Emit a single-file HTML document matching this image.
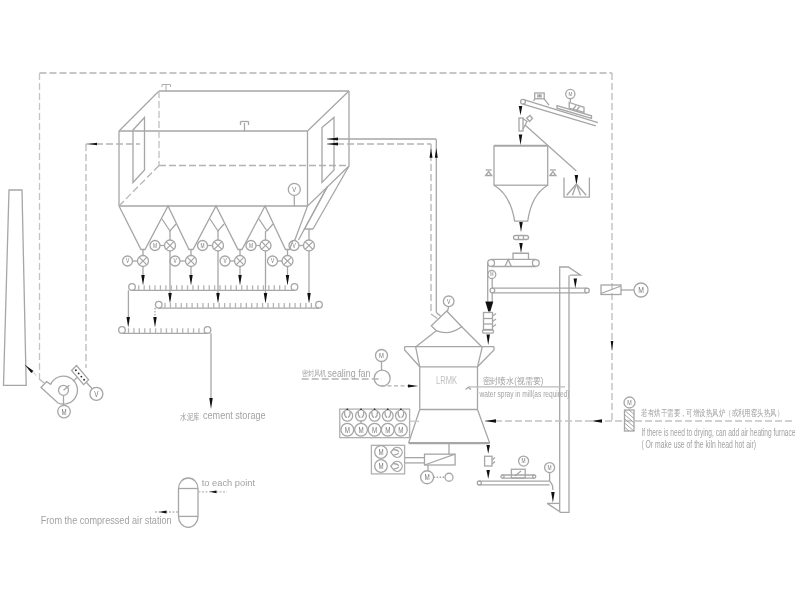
<!DOCTYPE html>
<html><head><meta charset="utf-8"><style>
html,body{margin:0;padding:0;background:#fff;width:800px;height:600px;overflow:hidden}
svg{display:block;will-change:transform}
text{font-family:"Liberation Sans",sans-serif}
</style></head><body>
<svg width="800" height="600" viewBox="0 0 800 600">
<g fill="none" stroke="#a6a6a6" stroke-width="1.3">
<line x1="39.5" y1="73" x2="612" y2="73" stroke="#b4b4b4" stroke-dasharray="7,3"/>
<line x1="39.5" y1="73" x2="39.5" y2="379.3" stroke="#c4c4c4" stroke-dasharray="7,3"/>
<line x1="612" y1="73" x2="612" y2="421" stroke="#bcbcbc" stroke-dasharray="7,3"/>
<line x1="159" y1="91" x2="349" y2="91"/>
<line x1="119" y1="131" x2="307.5" y2="131"/>
<line x1="119" y1="131" x2="159" y2="91"/>
<line x1="307.5" y1="131" x2="349" y2="91"/>
<line x1="119" y1="131" x2="119" y2="206"/>
<line x1="307.5" y1="131" x2="307.5" y2="206"/>
<line x1="119" y1="206" x2="307.5" y2="206"/>
<line x1="349" y1="91" x2="349" y2="166"/>
<line x1="159" y1="165.5" x2="349" y2="165.5" stroke="#b4b4b4" stroke-dasharray="7,3"/>
<line x1="159" y1="91" x2="159" y2="165.5" stroke="#c0c0c0" stroke-dasharray="7,3"/>
<line x1="119" y1="206" x2="159" y2="165.5" stroke="#b4b4b4" stroke-dasharray="7,3"/>
<polyline points="166,84.5 166,91" stroke-width="0.9"/>
<polyline points="162,84.5 170.5,84.5" stroke-width="0.9"/>
<polyline points="162,84.5 162,87" stroke-width="0.9"/>
<polyline points="170.5,84.5 170.5,87" stroke-width="0.9"/>
<polyline points="244.5,123 244.5,131"/>
<polyline points="240.5,121.5 248.5,121.5"/>
<polyline points="240.5,121.5 240.5,125"/>
<polyline points="248.5,121.5 248.5,125"/>
<polygon points="133,130 144.5,117.5 144.5,170 133,182.5"/>
<polygon points="322,127.5 334,117.5 334,170 322,182.5"/>
<line x1="86" y1="144" x2="140" y2="144" stroke="#b4b4b4" stroke-dasharray="7,3"/>
<line x1="86" y1="144" x2="86" y2="368" stroke="#b4b4b4" stroke-width="1.2" stroke-dasharray="7,3"/>
<polygon points="88,144 97,142.7 97,145.3" fill="#111" stroke="none"/>
<line x1="327" y1="139" x2="436" y2="139"/>
<line x1="436.3" y1="139" x2="436.3" y2="312.5"/>
<line x1="327" y1="144" x2="431" y2="144" stroke="#b4b4b4" stroke-dasharray="7,3"/>
<line x1="431" y1="144" x2="431" y2="314" stroke="#b4b4b4" stroke-width="1.3" stroke-dasharray="7,3"/>
<polygon points="327,139 338,137.4 338,140.6" fill="#111" stroke="none"/>
<polygon points="327,144 338,142.4 338,145.6" fill="#111" stroke="none"/>
<polygon points="431,148 429.5,157.7 432.5,157.7" fill="#111" stroke="none"/>
<polygon points="436.3,148 434.8,157.7 437.8,157.7" fill="#111" stroke="none"/>
<circle cx="294.3" cy="189.4" r="6"/>
<text x="0" y="0" transform="translate(294.3,192.208) scale(0.75,1)" font-size="7.800000000000001" stroke="none" fill="#7a7a7a" text-anchor="middle">V</text>
<line x1="294.3" y1="195.4" x2="294.3" y2="206"/>
<polyline points="119,206 141,249.5 145,249.5 168,206 189,249.5 193,249.5 216,206 238,249.5 242,249.5 265,206 285.5,249.5 289.5,249.5 293,240"/>
<polyline points="162,219 170,231 176,224"/>
<polyline points="210,219 218,231 224,224"/>
<polyline points="259,219 267,231 273,224"/>
<polyline points="349,166 307.5,206 294.5,241"/>
<line x1="349" y1="166" x2="313" y2="229"/>
<polyline points="327.5,186.5 304.5,229 313,229"/>
<line x1="327.5" y1="186.5" x2="298.5" y2="240"/>
<circle cx="155" cy="245.5" r="5"/>
<text x="0" y="0" transform="translate(155,247.84) scale(0.75,1)" font-size="6.5" stroke="none" fill="#7a7a7a" text-anchor="middle">M</text>
<line x1="160" y1="245.5" x2="164.5" y2="245.5"/>
<circle cx="170" cy="245.5" r="5.5"/>
<line x1="166.1115" y1="241.6115" x2="173.8885" y2="249.3885"/>
<line x1="166.1115" y1="249.3885" x2="173.8885" y2="241.6115"/>
<circle cx="202.5" cy="245.5" r="5"/>
<text x="0" y="0" transform="translate(202.5,247.84) scale(0.75,1)" font-size="6.5" stroke="none" fill="#7a7a7a" text-anchor="middle">M</text>
<line x1="207.5" y1="245.5" x2="212.5" y2="245.5"/>
<circle cx="218" cy="245.5" r="5.5"/>
<line x1="214.1115" y1="241.6115" x2="221.8885" y2="249.3885"/>
<line x1="214.1115" y1="249.3885" x2="221.8885" y2="241.6115"/>
<circle cx="251" cy="245.5" r="5"/>
<text x="0" y="0" transform="translate(251,247.84) scale(0.75,1)" font-size="6.5" stroke="none" fill="#7a7a7a" text-anchor="middle">M</text>
<line x1="256" y1="245.5" x2="260.0" y2="245.5"/>
<circle cx="265.5" cy="245.5" r="5.5"/>
<line x1="261.6115" y1="241.6115" x2="269.3885" y2="249.3885"/>
<line x1="261.6115" y1="249.3885" x2="269.3885" y2="241.6115"/>
<circle cx="294" cy="245.5" r="5"/>
<text x="0" y="0" transform="translate(294,247.84) scale(0.75,1)" font-size="6.5" stroke="none" fill="#7a7a7a" text-anchor="middle">V</text>
<line x1="299" y1="245.5" x2="303.5" y2="245.5"/>
<circle cx="309" cy="245.5" r="5.5"/>
<line x1="305.1115" y1="241.6115" x2="312.8885" y2="249.3885"/>
<line x1="305.1115" y1="249.3885" x2="312.8885" y2="241.6115"/>
<circle cx="127.5" cy="261" r="5"/>
<text x="0" y="0" transform="translate(127.5,263.34) scale(0.75,1)" font-size="6.5" stroke="none" fill="#7a7a7a" text-anchor="middle">V</text>
<line x1="132.5" y1="261" x2="137.5" y2="261"/>
<circle cx="143" cy="261" r="5.5"/>
<line x1="139.1115" y1="257.1115" x2="146.8885" y2="264.8885"/>
<line x1="139.1115" y1="264.8885" x2="146.8885" y2="257.1115"/>
<circle cx="175" cy="261" r="5"/>
<text x="0" y="0" transform="translate(175,263.34) scale(0.75,1)" font-size="6.5" stroke="none" fill="#7a7a7a" text-anchor="middle">V</text>
<line x1="180" y1="261" x2="185.5" y2="261"/>
<circle cx="191" cy="261" r="5.5"/>
<line x1="187.1115" y1="257.1115" x2="194.8885" y2="264.8885"/>
<line x1="187.1115" y1="264.8885" x2="194.8885" y2="257.1115"/>
<circle cx="225" cy="261" r="5"/>
<text x="0" y="0" transform="translate(225,263.34) scale(0.75,1)" font-size="6.5" stroke="none" fill="#7a7a7a" text-anchor="middle">V</text>
<line x1="230" y1="261" x2="234.5" y2="261"/>
<circle cx="240" cy="261" r="5.5"/>
<line x1="236.1115" y1="257.1115" x2="243.8885" y2="264.8885"/>
<line x1="236.1115" y1="264.8885" x2="243.8885" y2="257.1115"/>
<circle cx="272.5" cy="261" r="5"/>
<text x="0" y="0" transform="translate(272.5,263.34) scale(0.75,1)" font-size="6.5" stroke="none" fill="#7a7a7a" text-anchor="middle">V</text>
<line x1="277.5" y1="261" x2="282.0" y2="261"/>
<circle cx="287.5" cy="261" r="5.5"/>
<line x1="283.6115" y1="257.1115" x2="291.3885" y2="264.8885"/>
<line x1="283.6115" y1="264.8885" x2="291.3885" y2="257.1115"/>
<line x1="170" y1="231" x2="170" y2="240"/>
<line x1="218" y1="231" x2="218" y2="240"/>
<line x1="265.5" y1="231" x2="265.5" y2="240"/>
<line x1="309" y1="229" x2="309" y2="240"/>
<line x1="143" y1="249" x2="143" y2="255.5"/>
<line x1="191" y1="249" x2="191" y2="255.5"/>
<line x1="240" y1="249" x2="240" y2="255.5"/>
<line x1="287.5" y1="249" x2="287.5" y2="255.5"/>
<line x1="170" y1="251" x2="170" y2="300"/>
<polygon points="168.25,293 171.75,293 170,303.5" fill="#111" stroke="none"/>
<line x1="218" y1="251" x2="218" y2="300"/>
<polygon points="216.25,293 219.75,293 218,303.5" fill="#111" stroke="none"/>
<line x1="265.5" y1="251" x2="265.5" y2="300"/>
<polygon points="263.75,293 267.25,293 265.5,303.5" fill="#111" stroke="none"/>
<line x1="309" y1="251" x2="309" y2="300"/>
<polygon points="307.25,293 310.75,293 309,303.5" fill="#111" stroke="none"/>
<line x1="143" y1="266.5" x2="143" y2="280"/>
<polygon points="141.25,275 144.75,275 143,285.5" fill="#111" stroke="none"/>
<line x1="191" y1="266.5" x2="191" y2="280"/>
<polygon points="189.25,275 192.75,275 191,285.5" fill="#111" stroke="none"/>
<line x1="240" y1="266.5" x2="240" y2="280"/>
<polygon points="238.25,275 241.75,275 240,285.5" fill="#111" stroke="none"/>
<line x1="287.5" y1="266.5" x2="287.5" y2="280"/>
<polygon points="285.75,275 289.25,275 287.5,285.5" fill="#111" stroke="none"/>
<circle cx="132" cy="287" r="3.3"/>
<circle cx="294.5" cy="287" r="3.3"/>
<line x1="132" y1="290.3" x2="294.5" y2="290.3"/>
<line x1="138.75" y1="285.3" x2="138.75" y2="290.3" stroke="#b4b4b4"/>
<line x1="144.17" y1="285.3" x2="144.17" y2="290.3" stroke="#b4b4b4"/>
<line x1="149.59" y1="285.3" x2="149.59" y2="290.3" stroke="#b4b4b4"/>
<line x1="155.01" y1="285.3" x2="155.01" y2="290.3" stroke="#b4b4b4"/>
<line x1="160.43" y1="285.3" x2="160.43" y2="290.3" stroke="#b4b4b4"/>
<line x1="165.85" y1="285.3" x2="165.85" y2="290.3" stroke="#b4b4b4"/>
<line x1="171.27" y1="285.3" x2="171.27" y2="290.3" stroke="#b4b4b4"/>
<line x1="176.69" y1="285.3" x2="176.69" y2="290.3" stroke="#b4b4b4"/>
<line x1="182.11" y1="285.3" x2="182.11" y2="290.3" stroke="#b4b4b4"/>
<line x1="187.53" y1="285.3" x2="187.53" y2="290.3" stroke="#b4b4b4"/>
<line x1="192.95" y1="285.3" x2="192.95" y2="290.3" stroke="#b4b4b4"/>
<line x1="198.37" y1="285.3" x2="198.37" y2="290.3" stroke="#b4b4b4"/>
<line x1="203.79" y1="285.3" x2="203.79" y2="290.3" stroke="#b4b4b4"/>
<line x1="209.21" y1="285.3" x2="209.21" y2="290.3" stroke="#b4b4b4"/>
<line x1="214.63" y1="285.3" x2="214.63" y2="290.3" stroke="#b4b4b4"/>
<line x1="220.05" y1="285.3" x2="220.05" y2="290.3" stroke="#b4b4b4"/>
<line x1="225.47" y1="285.3" x2="225.47" y2="290.3" stroke="#b4b4b4"/>
<line x1="230.89" y1="285.3" x2="230.89" y2="290.3" stroke="#b4b4b4"/>
<line x1="236.31" y1="285.3" x2="236.31" y2="290.3" stroke="#b4b4b4"/>
<line x1="241.73" y1="285.3" x2="241.73" y2="290.3" stroke="#b4b4b4"/>
<line x1="247.15" y1="285.3" x2="247.15" y2="290.3" stroke="#b4b4b4"/>
<line x1="252.57" y1="285.3" x2="252.57" y2="290.3" stroke="#b4b4b4"/>
<line x1="257.99" y1="285.3" x2="257.99" y2="290.3" stroke="#b4b4b4"/>
<line x1="263.41" y1="285.3" x2="263.41" y2="290.3" stroke="#b4b4b4"/>
<line x1="268.83" y1="285.3" x2="268.83" y2="290.3" stroke="#b4b4b4"/>
<line x1="274.25" y1="285.3" x2="274.25" y2="290.3" stroke="#b4b4b4"/>
<line x1="279.67" y1="285.3" x2="279.67" y2="290.3" stroke="#b4b4b4"/>
<line x1="285.09" y1="285.3" x2="285.09" y2="290.3" stroke="#b4b4b4"/>
<circle cx="158.75" cy="304.75" r="3.3"/>
<circle cx="319" cy="304.75" r="3.3"/>
<line x1="158.75" y1="308.05" x2="319" y2="308.05"/>
<line x1="165" y1="303.05" x2="165" y2="308.05" stroke="#b4b4b4"/>
<line x1="170.42" y1="303.05" x2="170.42" y2="308.05" stroke="#b4b4b4"/>
<line x1="175.84" y1="303.05" x2="175.84" y2="308.05" stroke="#b4b4b4"/>
<line x1="181.26" y1="303.05" x2="181.26" y2="308.05" stroke="#b4b4b4"/>
<line x1="186.68" y1="303.05" x2="186.68" y2="308.05" stroke="#b4b4b4"/>
<line x1="192.1" y1="303.05" x2="192.1" y2="308.05" stroke="#b4b4b4"/>
<line x1="197.52" y1="303.05" x2="197.52" y2="308.05" stroke="#b4b4b4"/>
<line x1="202.94" y1="303.05" x2="202.94" y2="308.05" stroke="#b4b4b4"/>
<line x1="208.36" y1="303.05" x2="208.36" y2="308.05" stroke="#b4b4b4"/>
<line x1="213.78" y1="303.05" x2="213.78" y2="308.05" stroke="#b4b4b4"/>
<line x1="219.2" y1="303.05" x2="219.2" y2="308.05" stroke="#b4b4b4"/>
<line x1="224.62" y1="303.05" x2="224.62" y2="308.05" stroke="#b4b4b4"/>
<line x1="230.04" y1="303.05" x2="230.04" y2="308.05" stroke="#b4b4b4"/>
<line x1="235.46" y1="303.05" x2="235.46" y2="308.05" stroke="#b4b4b4"/>
<line x1="240.88" y1="303.05" x2="240.88" y2="308.05" stroke="#b4b4b4"/>
<line x1="246.3" y1="303.05" x2="246.3" y2="308.05" stroke="#b4b4b4"/>
<line x1="251.72" y1="303.05" x2="251.72" y2="308.05" stroke="#b4b4b4"/>
<line x1="257.14" y1="303.05" x2="257.14" y2="308.05" stroke="#b4b4b4"/>
<line x1="262.56" y1="303.05" x2="262.56" y2="308.05" stroke="#b4b4b4"/>
<line x1="267.98" y1="303.05" x2="267.98" y2="308.05" stroke="#b4b4b4"/>
<line x1="273.4" y1="303.05" x2="273.4" y2="308.05" stroke="#b4b4b4"/>
<line x1="278.82" y1="303.05" x2="278.82" y2="308.05" stroke="#b4b4b4"/>
<line x1="284.24" y1="303.05" x2="284.24" y2="308.05" stroke="#b4b4b4"/>
<line x1="289.66" y1="303.05" x2="289.66" y2="308.05" stroke="#b4b4b4"/>
<line x1="295.08" y1="303.05" x2="295.08" y2="308.05" stroke="#b4b4b4"/>
<line x1="300.5" y1="303.05" x2="300.5" y2="308.05" stroke="#b4b4b4"/>
<line x1="305.92" y1="303.05" x2="305.92" y2="308.05" stroke="#b4b4b4"/>
<line x1="311.34" y1="303.05" x2="311.34" y2="308.05" stroke="#b4b4b4"/>
<circle cx="122" cy="330" r="3.3"/>
<circle cx="207.5" cy="330" r="3.3"/>
<line x1="122" y1="333.3" x2="207.5" y2="333.3"/>
<line x1="128.5" y1="328.3" x2="128.5" y2="333.3" stroke="#b4b4b4"/>
<line x1="133.92" y1="328.3" x2="133.92" y2="333.3" stroke="#b4b4b4"/>
<line x1="139.34" y1="328.3" x2="139.34" y2="333.3" stroke="#b4b4b4"/>
<line x1="144.76" y1="328.3" x2="144.76" y2="333.3" stroke="#b4b4b4"/>
<line x1="150.18" y1="328.3" x2="150.18" y2="333.3" stroke="#b4b4b4"/>
<line x1="155.6" y1="328.3" x2="155.6" y2="333.3" stroke="#b4b4b4"/>
<line x1="161.02" y1="328.3" x2="161.02" y2="333.3" stroke="#b4b4b4"/>
<line x1="166.44" y1="328.3" x2="166.44" y2="333.3" stroke="#b4b4b4"/>
<line x1="171.86" y1="328.3" x2="171.86" y2="333.3" stroke="#b4b4b4"/>
<line x1="177.28" y1="328.3" x2="177.28" y2="333.3" stroke="#b4b4b4"/>
<line x1="182.7" y1="328.3" x2="182.7" y2="333.3" stroke="#b4b4b4"/>
<line x1="188.12" y1="328.3" x2="188.12" y2="333.3" stroke="#b4b4b4"/>
<line x1="193.54" y1="328.3" x2="193.54" y2="333.3" stroke="#b4b4b4"/>
<line x1="198.96" y1="328.3" x2="198.96" y2="333.3" stroke="#b4b4b4"/>
<line x1="128.4" y1="290.3" x2="128.4" y2="320"/>
<polygon points="126.44999999999999,317 129.95,317 128.2,327.5" fill="#111" stroke="none"/>
<line x1="155" y1="308" x2="155" y2="320" stroke-dasharray="1.5,1.5"/>
<polygon points="153.25,317 156.75,317 155,327.5" fill="#111" stroke="none"/>
<line x1="211" y1="333.3" x2="211" y2="400"/>
<polygon points="209.25,398 212.75,398 211,409" fill="#111" stroke="none"/>
<text x="180.3" y="419.5" font-size="9" stroke="none" fill="#9a9a9a" text-anchor="start" textLength="19.3" lengthAdjust="spacingAndGlyphs">水泥库</text>
<text x="203" y="419.25" font-size="10.6" stroke="none" fill="#a2a2a2" text-anchor="start" textLength="62.6" lengthAdjust="spacingAndGlyphs">cement storage</text>
<polygon points="9,190 3.5,385.4 26.2,385.4 22,190"/>
<path d="M 41,387.5 L 46.6,381.6 L 50.7,384.3 A 14 14 0 1 1 58,403 Z"/>
<circle cx="63.5" cy="390.3" r="5"/>
<line x1="63.5" y1="390.3" x2="69.5" y2="385.2"/>
<line x1="63.5" y1="395.3" x2="63.5" y2="405"/>
<circle cx="64" cy="411.6" r="6.3"/>
<text x="0" y="0" transform="translate(64,414.5484) scale(0.75,1)" font-size="8.19" stroke="none" fill="#7a7a7a" text-anchor="middle">M</text>
<polygon points="71.6,370.5 76.5,365.5 88.6,379.7 83.6,384.6"/>
<circle cx="75.91" cy="370.23" r="0.9" stroke="none" fill="#222"/>
<circle cx="78.64" cy="373.41" r="0.9" stroke="none" fill="#222"/>
<circle cx="81.36" cy="376.59" r="0.9" stroke="none" fill="#222"/>
<circle cx="84.09" cy="379.77" r="0.9" stroke="none" fill="#222"/>
<line x1="74" y1="380.6" x2="77" y2="377.5"/>
<line x1="86" y1="382" x2="92" y2="388.5"/>
<circle cx="96.4" cy="393.9" r="6.5"/>
<text x="0" y="0" transform="translate(96.4,396.94199999999995) scale(0.75,1)" font-size="8.450000000000001" stroke="none" fill="#7a7a7a" text-anchor="middle">V</text>
<polygon points="24.6,364.6 33.5,370.9 31.3,373.1" fill="#111" stroke="none"/>
<line x1="32.4" y1="372" x2="36.5" y2="375.6" stroke="#bbb" stroke-dasharray="1,1"/>
<polyline points="39.3,379.3 44.3,383" stroke="#b4b4b4"/>
<path d="M 178.5,488.5 A 9.75 10.5 0 0 1 198,488.5 L 198,516.4 A 9.75 11 0 0 1 178.5,516.4 Z"/>
<line x1="178.5" y1="488.5" x2="198" y2="488.5"/>
<line x1="178.5" y1="516.4" x2="198" y2="516.4"/>
<text x="201.75" y="485.8" font-size="9.5" stroke="none" fill="#a2a2a2" text-anchor="start" textLength="53.25" lengthAdjust="spacingAndGlyphs">to each point</text>
<line x1="198.5" y1="491.8" x2="227" y2="491.8" stroke="#bbb" stroke-dasharray="2,1.5"/>
<polygon points="209.5,491.8 216.5,490.40000000000003 216.5,493.2" fill="#111" stroke="none"/>
<text x="40.75" y="523.8" font-size="10.5" stroke="none" fill="#a2a2a2" text-anchor="start" textLength="130.85" lengthAdjust="spacingAndGlyphs">From the compressed air station</text>
<line x1="155" y1="512" x2="179.5" y2="512" stroke="#bbb" stroke-dasharray="2,1.5"/>
<polygon points="159,512 166.5,510.6 166.5,513.4" fill="#111" stroke="none"/>
<rect x="494" y="146" width="53.7" height="39.2"/>
<line x1="494" y1="145.5" x2="547.7" y2="145.5" stroke-width="1.6"/>
<path d="M 494,185.2 C 506,192 512,205 514.7,221.2 L 527.7,221.2 C 530,205 536,192 547.7,185.2"/>
<polygon points="485.7,175.5 488.7,171.5 491.7,175.5"/>
<line x1="485.7" y1="170" x2="491.7" y2="170"/>
<polygon points="549.9,175.5 552.9,171.5 555.9,175.5"/>
<line x1="549.9" y1="170" x2="555.9" y2="170"/>
<line x1="524.6" y1="99.9" x2="597.9" y2="122.7"/>
<line x1="523" y1="104.1" x2="595.8" y2="125.9"/>
<circle cx="523" cy="101.8" r="2.4"/>
<rect x="534.7" y="93" width="9.5" height="5.8"/>
<line x1="537" y1="95.2" x2="542" y2="95.2"/>
<line x1="537" y1="96.8" x2="542" y2="96.8"/>
<line x1="539.5" y1="94" x2="539.5" y2="97"/>
<line x1="534.7" y1="98.8" x2="533.6" y2="101"/>
<line x1="544.2" y1="98.8" x2="549" y2="105.2"/>
<polygon points="557,105.7 591.5,115.8 591.5,118.3 557,108.2"/>
<polygon points="569.2,102.5 584,107.3 584,112.3 569.2,108"/>
<line x1="573" y1="109.5" x2="576" y2="105.5"/>
<line x1="576.5" y1="110.5" x2="579.5" y2="106.5"/>
<circle cx="570.3" cy="94" r="4.6"/>
<text x="0" y="0" transform="translate(570.3,96.1528) scale(0.75,1)" font-size="5.9799999999999995" stroke="none" fill="#7a7a7a" text-anchor="middle">M</text>
<line x1="570.3" y1="98.6" x2="570.3" y2="102.5"/>
<polygon points="518.75,106 522.25,106 520.5,115.5" fill="#111" stroke="none"/>
<rect x="519" y="118" width="4" height="13"/>
<polygon points="518.75,134.5 522.25,134.5 520.5,145" fill="#111" stroke="none"/>
<polyline points="523,118.5 527,121.5 523,129"/>
<polygon points="526.7,118 530,115.5 532.5,118.5 529.5,121.5"/>
<line x1="525" y1="125" x2="576.4" y2="171"/>
<polygon points="574.65,175 578.15,175 576.4,185" fill="#111" stroke="none"/>
<polyline points="564,177.4 564,197.2 589.4,197.2 589.4,177.4"/>
<line x1="576.4" y1="184" x2="566.7" y2="195.2"/>
<line x1="576.4" y1="184" x2="572.4" y2="195.2"/>
<line x1="576.4" y1="184" x2="580.5" y2="195.2"/>
<line x1="576.4" y1="184" x2="586.2" y2="195.2"/>
<polygon points="519.25,222 522.75,222 521,232" fill="#111" stroke="none"/>
<path d="M 515.5,235.5 L 526.5,235.5 A 2 2 0 0 1 526.5,239.5 L 515.5,239.5 A 2 2 0 0 1 515.5,235.5 Z"/>
<line x1="518.5" y1="235.5" x2="518.5" y2="239.5"/>
<line x1="523.5" y1="235.5" x2="523.5" y2="239.5"/>
<polygon points="519.25,243 522.75,243 521,253" fill="#111" stroke="none"/>
<polyline points="513,259.4 513,253.25 528.5,253.25 528.5,259.4"/>
<circle cx="491.1" cy="263" r="3.4"/>
<circle cx="535.8" cy="263" r="3.4"/>
<line x1="491.1" y1="259.4" x2="535.8" y2="259.4"/>
<line x1="491.1" y1="266.5" x2="535.8" y2="266.5"/>
<polyline points="505,266.5 508.2,259.6 511.4,266.5"/>
<line x1="487.7" y1="263" x2="487.7" y2="301.5"/>
<circle cx="491.8" cy="274.5" r="4"/>
<text x="0" y="0" transform="translate(491.8,276.372) scale(0.75,1)" font-size="5.2" stroke="none" fill="#7a7a7a" text-anchor="middle">M</text>
<line x1="492.2" y1="278.5" x2="492.2" y2="288.2"/>
<line x1="492.2" y1="292.8" x2="492.2" y2="301.5"/>
<circle cx="492.4" cy="290.5" r="2.3"/>
<circle cx="587" cy="290.5" r="2.3"/>
<line x1="492.4" y1="288.2" x2="587" y2="288.2"/>
<line x1="492.4" y1="292.8" x2="587" y2="292.8"/>
<polygon points="485.3,301.5 493.3,301.5 490.3,311.5 488.3,311.5" fill="#111" stroke="none"/>
<rect x="483.5" y="312.5" width="9" height="17"/>
<line x1="492.5" y1="316" x2="496" y2="313.5"/>
<line x1="492.5" y1="321.5" x2="496" y2="319"/>
<line x1="492.5" y1="327" x2="496" y2="324.5"/>
<line x1="483.5" y1="318.5" x2="492.5" y2="318.5"/>
<line x1="483.5" y1="324" x2="492.5" y2="324"/>
<path d="M 484,330 L 492,330 A 1.6 1.6 0 0 1 492,333.2 L 484,333.2 A 1.6 1.6 0 0 1 484,330 Z"/>
<polygon points="486.45,334.4 489.95,334.4 488.2,345" fill="#111" stroke="none"/>
<polyline points="559.7,512.3 559.7,267 568.3,267 580.5,275.2 570,275.2"/>
<polyline points="569,275.2 569,512.3 559.7,512.3"/>
<polygon points="573.55,278.4 577.05,278.4 575.3,288.2" fill="#111" stroke="none"/>
<polyline points="547.2,503.4 559.4,503.4"/>
<line x1="547.2" y1="503.4" x2="559.4" y2="511.5"/>
<path d="M 446.7,311 L 431.3,325.7 L 436.3,330.7 Q 449,336 461.7,326.7 Z"/>
<line x1="436.3" y1="330.7" x2="415.6" y2="347"/>
<line x1="461.7" y1="326.7" x2="482" y2="347"/>
<circle cx="448.7" cy="301.3" r="5.3"/>
<text x="0" y="0" transform="translate(448.7,303.7804) scale(0.75,1)" font-size="6.89" stroke="none" fill="#7a7a7a" text-anchor="middle">V</text>
<line x1="448.7" y1="306.6" x2="447.5" y2="311"/>
<polyline points="431,314 437.3,318.5" stroke="#b4b4b4"/>
<polyline points="436.3,312.5 440.5,316"/>
<line x1="404.6" y1="346.6" x2="494" y2="346.6" stroke-width="1.3"/>
<polyline points="404.6,346.6 404.6,350 419.75,366.8"/>
<polyline points="494,346.6 494,350 477.5,366.8"/>
<line x1="415.6" y1="346.6" x2="419.75" y2="366.8"/>
<line x1="482.3" y1="346.6" x2="477.5" y2="366.8"/>
<line x1="419.75" y1="366.8" x2="477.5" y2="366.8"/>
<line x1="419.75" y1="366.8" x2="419.75" y2="409.5"/>
<line x1="477.5" y1="366.8" x2="477.5" y2="409.5"/>
<line x1="419.75" y1="409.5" x2="477.5" y2="409.5"/>
<polyline points="419.75,409.5 408.75,442.6 489.5,442.6 477.5,409.5"/>
<line x1="408.75" y1="443.5" x2="489.5" y2="443.5"/>
<text x="436" y="384.3" font-size="10" stroke="none" fill="#c0c0c0" text-anchor="start" textLength="21" lengthAdjust="spacingAndGlyphs">LRMK</text>
<circle cx="381.5" cy="355.5" r="6"/>
<text x="0" y="0" transform="translate(381.5,358.308) scale(0.75,1)" font-size="7.800000000000001" stroke="none" fill="#7a7a7a" text-anchor="middle">M</text>
<line x1="381.5" y1="361.5" x2="381.5" y2="370"/>
<circle cx="382.2" cy="378.2" r="8"/>
<text x="301.7" y="376.3" font-size="8.2" stroke="none" fill="#a4a4a4" text-anchor="start" textLength="25" lengthAdjust="spacingAndGlyphs">密封风机</text>
<text x="327.5" y="376.8" font-size="10.5" stroke="none" fill="#a2a2a2" text-anchor="start" textLength="43" lengthAdjust="spacingAndGlyphs">sealing fan</text>
<line x1="301.7" y1="379" x2="382" y2="379" stroke="#b4b4b4" stroke-dasharray="7,3"/>
<line x1="381" y1="385.8" x2="410" y2="385.8" stroke="#b0b0b0" stroke-dasharray="4,2.5"/>
<polygon points="418.4,386 408,384.5 408,387.5" fill="#111" stroke="none"/>
<line x1="468.6" y1="386.8" x2="565" y2="386.8" stroke="#bbb"/>
<polyline points="465.5,389.5 468.3,387.3 471,389.5"/>
<text x="482.5" y="384.25" font-size="8.5" stroke="none" fill="#a0a0a0" text-anchor="start" textLength="60.75" lengthAdjust="spacingAndGlyphs">密封喷水(视需要)</text>
<text x="479.5" y="397" font-size="9" stroke="none" fill="#a2a2a2" text-anchor="start" textLength="90" lengthAdjust="spacingAndGlyphs">water spray in mill(as required)</text>
<line x1="485" y1="421" x2="792.5" y2="421" stroke="#c2c2c2" stroke-dasharray="7,3"/>
<polygon points="485,421 496,419.3 496,422.7" fill="#111" stroke="none"/>
<polygon points="591.5,421 602,419.3 602,422.7" fill="#111" stroke="none"/>
<polygon points="610.7,341 613.3,341 612,351" fill="#111" stroke="none"/>
<rect x="601" y="285" width="20" height="9.5"/>
<line x1="601" y1="293.5" x2="621" y2="286"/>
<line x1="621" y1="290" x2="634" y2="290"/>
<circle cx="641" cy="290" r="7"/>
<text x="0" y="0" transform="translate(641,293.276) scale(0.75,1)" font-size="9.1" stroke="none" fill="#7a7a7a" text-anchor="middle">M</text>
<circle cx="629.5" cy="402.5" r="5.5"/>
<text x="0" y="0" transform="translate(629.5,405.074) scale(0.75,1)" font-size="7.15" stroke="none" fill="#7a7a7a" text-anchor="middle">M</text>
<rect x="624.5" y="410" width="9.5" height="21"/>
<clipPath id="hc"><rect x="624.5" y="410" width="9.5" height="21"/></clipPath>
<g clip-path="url(#hc)">
<line x1="622" y1="404.0" x2="636" y2="416.0" stroke="#9a9a9a" stroke-width="0.9"/>
<line x1="622" y1="408.2" x2="636" y2="420.2" stroke="#9a9a9a" stroke-width="0.9"/>
<line x1="622" y1="412.4" x2="636" y2="424.4" stroke="#9a9a9a" stroke-width="0.9"/>
<line x1="622" y1="416.6" x2="636" y2="428.6" stroke="#9a9a9a" stroke-width="0.9"/>
<line x1="622" y1="420.8" x2="636" y2="432.8" stroke="#9a9a9a" stroke-width="0.9"/>
<line x1="622" y1="425.0" x2="636" y2="437.0" stroke="#9a9a9a" stroke-width="0.9"/>
<line x1="622" y1="429.2" x2="636" y2="441.2" stroke="#9a9a9a" stroke-width="0.9"/>
</g>
<text x="641.4" y="416.4" font-size="9" stroke="none" fill="#a0a0a0" text-anchor="start" textLength="141.6" lengthAdjust="spacingAndGlyphs">若有烘干需要，可增设热风炉（或利用窑头热风）</text>
<text x="641.4" y="435.5" font-size="11" stroke="none" fill="#a2a2a2" text-anchor="start" textLength="154.1" lengthAdjust="spacingAndGlyphs">If there is need to drying, can add air heating furnace</text>
<text x="641.4" y="447.9" font-size="10.5" stroke="none" fill="#a2a2a2" text-anchor="start" textLength="114.6" lengthAdjust="spacingAndGlyphs">( Or make use of the kiln head hot air)</text>
<rect x="339.75" y="409.1" width="69.85" height="28.55" stroke="#b0b0b0"/>
<g transform="rotate(0 347.3 415.2)">
<path d="M 347.3,409.0 L 343.25,412.22999999999996 A 5.4 5.4 0 1 0 351.35,412.22999999999996 Z"/>
<path d="M 344.6,411.96 Q 344.33,416.28 346.76,417.63"/>
<path d="M 350.0,411.96 Q 350.27000000000004,416.28 347.84000000000003,417.63"/>
</g>
<circle cx="347.3" cy="409.3" r="0.9" stroke="none" fill="#333"/>
<circle cx="347.3" cy="429.8" r="6.4"/>
<text x="0" y="0" transform="translate(347.3,432.7952) scale(0.75,1)" font-size="8.32" stroke="none" fill="#7a7a7a" text-anchor="middle">M</text>
<g transform="rotate(0 361.0 415.2)">
<path d="M 361.0,409.0 L 356.95,412.22999999999996 A 5.4 5.4 0 1 0 365.05,412.22999999999996 Z"/>
<path d="M 358.3,411.96 Q 358.03,416.28 360.46,417.63"/>
<path d="M 363.7,411.96 Q 363.97,416.28 361.54,417.63"/>
</g>
<circle cx="361.0" cy="409.3" r="0.9" stroke="none" fill="#333"/>
<circle cx="361.0" cy="429.8" r="6.4"/>
<text x="0" y="0" transform="translate(361.0,432.7952) scale(0.75,1)" font-size="8.32" stroke="none" fill="#7a7a7a" text-anchor="middle">M</text>
<g transform="rotate(0 374.6 415.2)">
<path d="M 374.6,409.0 L 370.55,412.22999999999996 A 5.4 5.4 0 1 0 378.65000000000003,412.22999999999996 Z"/>
<path d="M 371.90000000000003,411.96 Q 371.63,416.28 374.06,417.63"/>
<path d="M 377.3,411.96 Q 377.57000000000005,416.28 375.14000000000004,417.63"/>
</g>
<circle cx="374.6" cy="409.3" r="0.9" stroke="none" fill="#333"/>
<circle cx="374.6" cy="429.8" r="6.4"/>
<text x="0" y="0" transform="translate(374.6,432.7952) scale(0.75,1)" font-size="8.32" stroke="none" fill="#7a7a7a" text-anchor="middle">M</text>
<g transform="rotate(0 387.75 415.2)">
<path d="M 387.75,409.0 L 383.7,412.22999999999996 A 5.4 5.4 0 1 0 391.8,412.22999999999996 Z"/>
<path d="M 385.05,411.96 Q 384.78,416.28 387.21,417.63"/>
<path d="M 390.45,411.96 Q 390.72,416.28 388.29,417.63"/>
</g>
<circle cx="387.75" cy="409.3" r="0.9" stroke="none" fill="#333"/>
<circle cx="387.75" cy="429.8" r="6.4"/>
<text x="0" y="0" transform="translate(387.75,432.7952) scale(0.75,1)" font-size="8.32" stroke="none" fill="#7a7a7a" text-anchor="middle">M</text>
<g transform="rotate(0 400.9 415.2)">
<path d="M 400.9,409.0 L 396.84999999999997,412.22999999999996 A 5.4 5.4 0 1 0 404.95,412.22999999999996 Z"/>
<path d="M 398.2,411.96 Q 397.92999999999995,416.28 400.35999999999996,417.63"/>
<path d="M 403.59999999999997,411.96 Q 403.87,416.28 401.44,417.63"/>
</g>
<circle cx="400.9" cy="409.3" r="0.9" stroke="none" fill="#333"/>
<circle cx="400.9" cy="429.8" r="6.4"/>
<text x="0" y="0" transform="translate(400.9,432.7952) scale(0.75,1)" font-size="8.32" stroke="none" fill="#7a7a7a" text-anchor="middle">M</text>
<line x1="361" y1="419.9" x2="361" y2="423.4"/>
<line x1="409.6" y1="421.25" x2="419.25" y2="421.25" stroke="#c8c8c8"/>
<rect x="371.4" y="445.3" width="33.2" height="28.6" stroke="#b0b0b0"/>
<circle cx="381" cy="452" r="6.3"/>
<text x="0" y="0" transform="translate(381,454.9484) scale(0.75,1)" font-size="8.19" stroke="none" fill="#7a7a7a" text-anchor="middle">M</text>
<circle cx="381" cy="466" r="6.3"/>
<text x="0" y="0" transform="translate(381,468.9484) scale(0.75,1)" font-size="8.19" stroke="none" fill="#7a7a7a" text-anchor="middle">M</text>
<g transform="rotate(-90 396.6 452.3)">
<path d="M 396.6,446.5 L 392.85,449.55 A 5.0 5.0 0 1 0 400.35,449.55 Z"/>
<path d="M 394.1,449.3 Q 393.85,453.3 396.1,454.55"/>
<path d="M 399.1,449.3 Q 399.35,453.3 397.1,454.55"/>
</g>
<g transform="rotate(-90 396.6 466.3)">
<path d="M 396.6,460.5 L 392.85,463.55 A 5.0 5.0 0 1 0 400.35,463.55 Z"/>
<path d="M 394.1,463.3 Q 393.85,467.3 396.1,468.55"/>
<path d="M 399.1,463.3 Q 399.35,467.3 397.1,468.55"/>
</g>
<line x1="404.9" y1="457.65" x2="424.5" y2="457.65"/>
<line x1="404.9" y1="462.9" x2="424.5" y2="462.9"/>
<rect x="424.5" y="454.15" width="30.6" height="10.85"/>
<line x1="424.5" y1="465" x2="455" y2="454.15"/>
<line x1="449" y1="442.6" x2="449" y2="454.15"/>
<line x1="428" y1="465" x2="428" y2="471"/>
<circle cx="427.1" cy="477.25" r="6.5"/>
<text x="0" y="0" transform="translate(427.1,480.292) scale(0.75,1)" font-size="8.450000000000001" stroke="none" fill="#7a7a7a" text-anchor="middle">M</text>
<line x1="433.6" y1="477.25" x2="445" y2="477.25" stroke-dasharray="1.5,1.5"/>
<circle cx="449" cy="477.25" r="4"/>
<polygon points="486.45,444.9 489.95,444.9 488.2,453.8" fill="#111" stroke="none"/>
<rect x="484.6" y="456.25" width="7.4" height="9.75"/>
<line x1="492" y1="460" x2="495" y2="457.5"/>
<line x1="492" y1="464" x2="495" y2="461.5"/>
<polygon points="486.45,470 489.95,470 488.2,479" fill="#111" stroke="none"/>
<circle cx="479.3" cy="483" r="2"/>
<line x1="479.3" y1="481.2" x2="549.6" y2="481.2" stroke-width="1.2"/>
<line x1="479.3" y1="484.8" x2="549.6" y2="484.8"/>
<path d="M 549.6,481.2 Q 553,484 552.9,490"/>
<polygon points="551.15,492 554.65,492 552.9,502.6" fill="#111" stroke="none"/>
<circle cx="502.5" cy="476.6" r="1.6"/>
<circle cx="534.2" cy="476.6" r="1.6"/>
<line x1="502.5" y1="475" x2="534.2" y2="475"/>
<line x1="502.5" y1="478.2" x2="534.2" y2="478.2"/>
<rect x="511.4" y="469.25" width="13.8" height="8.75"/>
<line x1="515" y1="476" x2="521" y2="471"/>
<circle cx="523.6" cy="461.1" r="5"/>
<text x="0" y="0" transform="translate(523.6,463.44) scale(0.75,1)" font-size="6.5" stroke="none" fill="#7a7a7a" text-anchor="middle">M</text>
<circle cx="549.6" cy="467.6" r="5"/>
<text x="0" y="0" transform="translate(549.6,469.94) scale(0.75,1)" font-size="6.5" stroke="none" fill="#7a7a7a" text-anchor="middle">M</text>
<line x1="549.6" y1="472.6" x2="549.6" y2="481.2"/>
</g>
</svg>
</body></html>
